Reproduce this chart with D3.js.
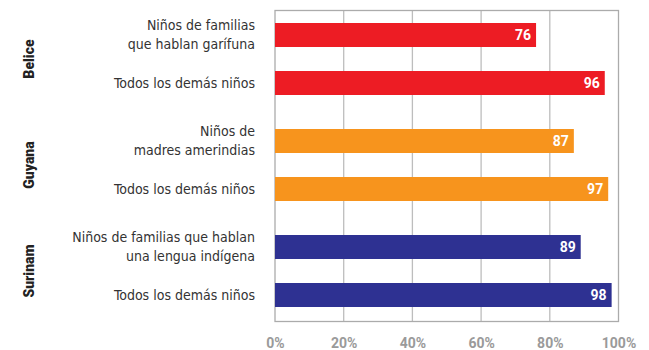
<!DOCTYPE html>
<html>
<head>
<meta charset="utf-8">
<script src="https://cdn.jsdelivr.net/npm/d3@7"></script>
<style>
  html, body { margin: 0; padding: 0; background: #fff; }
  svg { display: block; }
</style>
</head>
<body>
<svg id="chart" width="649" height="350"></svg>
<script>
// Countries and their two groups of children
const countries = ["Belice", "Guyana", "Surinam"];
const groupLabels = [
  ["Niños de familias|que hablan garífuna", "Todos los demás niños"],
  ["Niños de|madres amerindias", "Todos los demás niños"],
  ["Niños de familias que hablan|una lengua indígena", "Todos los demás niños"]
];
const values = [
  [76, 96],
  [87, 97],
  [89, 98]
];
const countryColors = ["#ED1C24", "#F7941D", "#2E3192"];
const tickValues = [0, 20, 40, 60, 80, 100];

const svg = d3.select("#chart");
const labelFont = "'Liberation Sans Narrow', 'DejaVu Sans Condensed', 'Roboto', sans-serif";
const boldFont = "'Roboto', 'Liberation Sans', sans-serif";

const plot = { left: 275, right: 618.5, top: 10.5, bottom: 321.5 };

const x = d3.scaleLinear().domain([0, 100]).range([plot.left, plot.right]);
const yGroup = d3.scaleBand().domain(countries).range([6, 324]).paddingInner(0).paddingOuter(0);
const yInner = d3.scaleBand().domain([0, 1]).range([5, 101]).paddingInner(0.5).paddingOuter(0.25);

// Gridlines
svg.append("g")
  .selectAll("line")
  .data(tickValues.slice(1, -1))
  .join("line")
  .attr("x1", d => x(d)).attr("x2", d => x(d))
  .attr("y1", plot.top).attr("y2", plot.bottom)
  .attr("stroke", "#bdbdbd").attr("stroke-width", 1.3);

// Frame
svg.append("rect")
  .attr("x", plot.left).attr("y", plot.top)
  .attr("width", plot.right - plot.left).attr("height", plot.bottom - plot.top)
  .attr("fill", "none").attr("stroke", "#ababab").attr("stroke-width", 1.3);

// Bottom axis labels
const axis = d3.axisBottom(x).tickValues(tickValues).tickFormat(d => d + "%").tickSize(0).tickPadding(0);
const axisG = svg.append("g")
  .attr("transform", `translate(0,${plot.bottom})`)
  .call(axis);
axisG.select(".domain").remove();
axisG.selectAll(".tick text")
  .attr("y", 26)
  .attr("dy", 0)
  .attr("fill", "#9a9a9a")
  .attr("font-family", boldFont)
  .attr("font-weight", "bold")
  .attr("font-size", 14);

// Groups
countries.forEach((c, gi) => {
  const g = svg.append("g").attr("transform", `translate(0,${yGroup(c)})`);

  values[gi].forEach((v, i) => {
    const y0 = yInner(i);
    const bh = yInner.bandwidth();
    g.append("rect")
      .attr("x", x(0)).attr("y", y0)
      .attr("width", x(v) - x(0)).attr("height", bh)
      .attr("fill", countryColors[gi]);

    g.append("text")
      .attr("x", x(v) - 5).attr("y", y0 + bh / 2)
      .attr("dy", "0.36em")
      .attr("text-anchor", "end")
      .attr("fill", "#fff")
      .style("font-family", boldFont)
      .style("font-weight", "bold")
      .style("font-size", "14px")
      .text(v);

    const lines = groupLabels[gi][i].split("|");
    const lh = 19;
    const t = g.append("text")
      .attr("text-anchor", "end")
      .attr("fill", "#333")
      .style("font-family", labelFont)
      .style("font-size", "14px");
    lines.forEach((ln, li) => {
      t.append("tspan")
        .attr("x", 255)
        .attr("y", y0 + bh / 2 + (li - (lines.length - 1) / 2) * lh)
        .attr("dy", "0.35em")
        .text(ln);
    });
  });

  // Country name, rotated
  const cy = yGroup.bandwidth() / 2;
  g.append("text")
    .attr("transform", `translate(29,${cy}) rotate(-90)`)
    .attr("text-anchor", "middle")
    .attr("dy", "0.35em")
    .attr("fill", "#222")
    .style("font-family", boldFont)
    .style("font-weight", "900")
    .style("font-size", "14px")
    .text(c);
});
</script>
</body>
</html>
